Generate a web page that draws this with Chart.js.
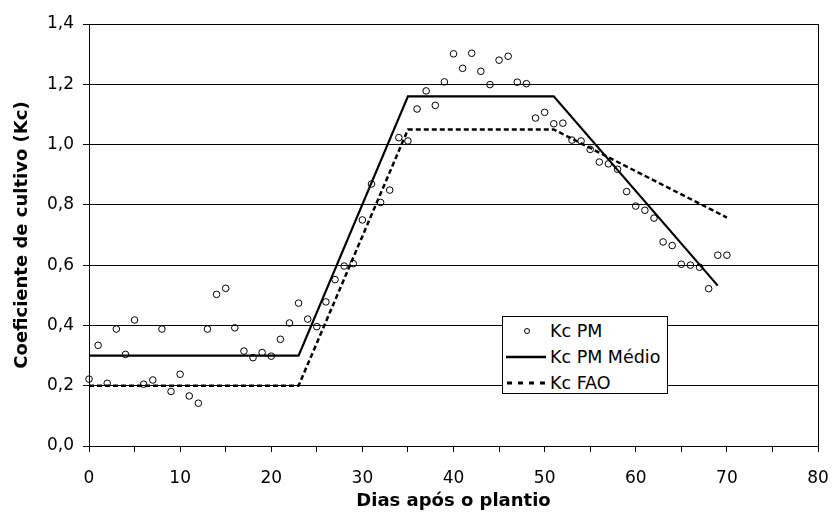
<!DOCTYPE html>
<html>
<head>
<meta charset="utf-8">
<script src="https://cdn.jsdelivr.net/npm/chart.js@4"></script>
<style>
    body { margin: 0; background: #fff; }
    #wrap { position: relative; width: 832px; height: 518px; }
    #legenda {
        position: absolute; left: 502px; top: 316px; width: 164px; height: 76px;
        border: 1px solid #000; background: #fff;
        font-family: "DejaVu Sans", sans-serif; font-size: 17.5px; color: #000;
    }
    #legenda .item { position: absolute; left: 0; height: 26px; width: 164px; }
    #legenda svg { position: absolute; left: 3px; top: 0; }
    #legenda span { position: absolute; left: 47px; top: 2px; line-height: 22px; white-space: nowrap; }
</style>
</head>
<body>
<div id="wrap">
    <canvas id="grafico" width="832" height="518"></canvas>
    <div id="legenda">
        <div class="item" style="top:1px">
            <svg width="40" height="26"><circle cx="21" cy="13" r="2.5" fill="none" stroke="#000" stroke-width="1"/></svg>
            <span>Kc PM</span>
        </div>
        <div class="item" style="top:27px">
            <svg width="40" height="26"><line x1="0" y1="13" x2="40" y2="13" stroke="#000" stroke-width="2.3"/></svg>
            <span>Kc PM Médio</span>
        </div>
        <div class="item" style="top:53px">
            <svg width="40" height="26"><line x1="1" y1="13" x2="40" y2="13" stroke="#000" stroke-width="3" stroke-dasharray="5 6"/></svg>
            <span>Kc FAO</span>
        </div>
    </div>
</div>
<script>
// dias após o plantio e Kc diário (Penman-Monteith)
const dias = [0, 1, 2, 3, 4, 5, 6, 7, 8, 9, 10, 11, 12, 13, 14, 15, 16, 17, 18, 19, 20,
    21, 22, 23, 24, 25, 26, 27, 28, 29, 30, 31, 32, 33, 34, 35, 36, 37, 38, 39, 40,
    41, 42, 43, 44, 45, 46, 47, 48, 49, 50, 51, 52, 53, 54, 55, 56, 57, 58, 59, 60,
    61, 62, 63, 64, 65, 66, 67, 68, 69, 70];
const kcPM = [0.222, 0.334, 0.208, 0.388, 0.304, 0.418, 0.205, 0.219, 0.388, 0.181, 0.238,
    0.166, 0.142, 0.388, 0.503, 0.523, 0.392, 0.315, 0.293, 0.310, 0.298,
    0.354, 0.408, 0.474, 0.421, 0.396, 0.478, 0.552, 0.597, 0.605, 0.750,
    0.869, 0.808, 0.849, 1.023, 1.012, 1.118, 1.178, 1.130, 1.208, 1.301,
    1.253, 1.303, 1.243, 1.199, 1.280, 1.293, 1.207, 1.202, 1.088, 1.107,
    1.069, 1.071, 1.015, 1.012, 0.984, 0.942, 0.936, 0.918, 0.844, 0.796,
    0.782, 0.756, 0.677, 0.665, 0.603, 0.600, 0.593, 0.522, 0.633, 0.633];

// Kc PM médio (segmentos)
const mediaDias = [0, 23, 35, 51, 69];
const mediaKc = [0.30, 0.30, 1.16, 1.16, 0.532];

// Kc FAO
const faoDias = [0, 23, 35, 51, 70];
const faoKc = [0.20, 0.20, 1.05, 1.05, 0.758];

const nomes = ['Kc PM', 'Kc PM Médio', 'Kc FAO'];
const eixoX = 'Dias após o plantio';
const eixoY = 'Coeficiente de cultivo (Kc)';

const pares = (xs, ys) => xs.map((x, i) => ({ x: x, y: ys[i] }));

// moldura da área do gráfico (lado direito)
const moldura = {
    id: 'moldura',
    afterDraw(chart) {
        const { ctx, chartArea: a } = chart;
        ctx.save();
        ctx.strokeStyle = '#000';
        ctx.lineWidth = 1;
        ctx.beginPath();
        ctx.moveTo(Math.round(a.right) + 0.5, a.top);
        ctx.lineTo(Math.round(a.right) + 0.5, a.bottom);
        ctx.stroke();
        ctx.restore();
    }
};

const fonte = 'DejaVu Sans';

new Chart(document.getElementById('grafico'), {
    data: {
        datasets: [
            {
                type: 'scatter',
                label: nomes[0],
                data: pares(dias, kcPM),
                pointStyle: 'circle',
                pointRadius: 3.3,
                borderWidth: 1,
                borderColor: '#000',
                backgroundColor: 'rgba(0,0,0,0)',
                clip: false
            },
            {
                type: 'line',
                label: nomes[1],
                data: pares(mediaDias, mediaKc),
                borderColor: '#000',
                borderWidth: 2.2,
                pointRadius: 0,
                tension: 0,
                fill: false
            },
            {
                type: 'line',
                label: nomes[2],
                data: pares(faoDias, faoKc),
                borderColor: '#000',
                borderWidth: 2.5,
                borderDash: [5, 3],
                pointRadius: 0,
                tension: 0,
                fill: false
            }
        ]
    },
    options: {
        responsive: false,
        animation: false,
        devicePixelRatio: 1,
        layout: { padding: { left: 0, right: 14, top: 24, bottom: 0 } },
        plugins: {
            legend: { display: false },
            tooltip: { enabled: false }
        },
        scales: {
            x: {
                type: 'linear',
                position: 'bottom',
                min: 0,
                max: 80,
                afterFit: s => { s.height = 72; s.paddingLeft = 0; s.paddingRight = 0; },
                ticks: {
                    stepSize: 5,
                    autoSkip: false,
                    maxRotation: 0,
                    padding: 16,
                    color: '#000',
                    font: { family: fonte, size: 17 },
                    callback: v => (v % 10 === 0 ? v : '')
                },
                grid: { drawOnChartArea: false, drawTicks: true, tickLength: 6, color: '#000' },
                border: { color: '#000', width: 1 },
                title: {
                    display: true,
                    text: eixoX,
                    color: '#000',
                    font: { family: fonte, size: 18, weight: 'bold' },
                    padding: { top: 0, bottom: 6 }
                }
            },
            y: {
                min: 0,
                max: 1.4,
                afterFit: s => { s.width = 89; },
                ticks: {
                    stepSize: 0.2,
                    padding: 9,
                    color: '#000',
                    font: { family: fonte, size: 17 },
                    callback: v => v.toFixed(1).replace('.', ',')
                },
                grid: { color: '#000', lineWidth: 1, tickLength: 6 },
                border: { color: '#000', width: 1 },
                title: {
                    display: true,
                    text: eixoY,
                    color: '#000',
                    font: { family: fonte, size: 18, weight: 'bold' },
                    padding: { top: 12, bottom: 0 }
                }
            }
        }
    },
    plugins: [moldura]
});
</script>
</body>
</html>
